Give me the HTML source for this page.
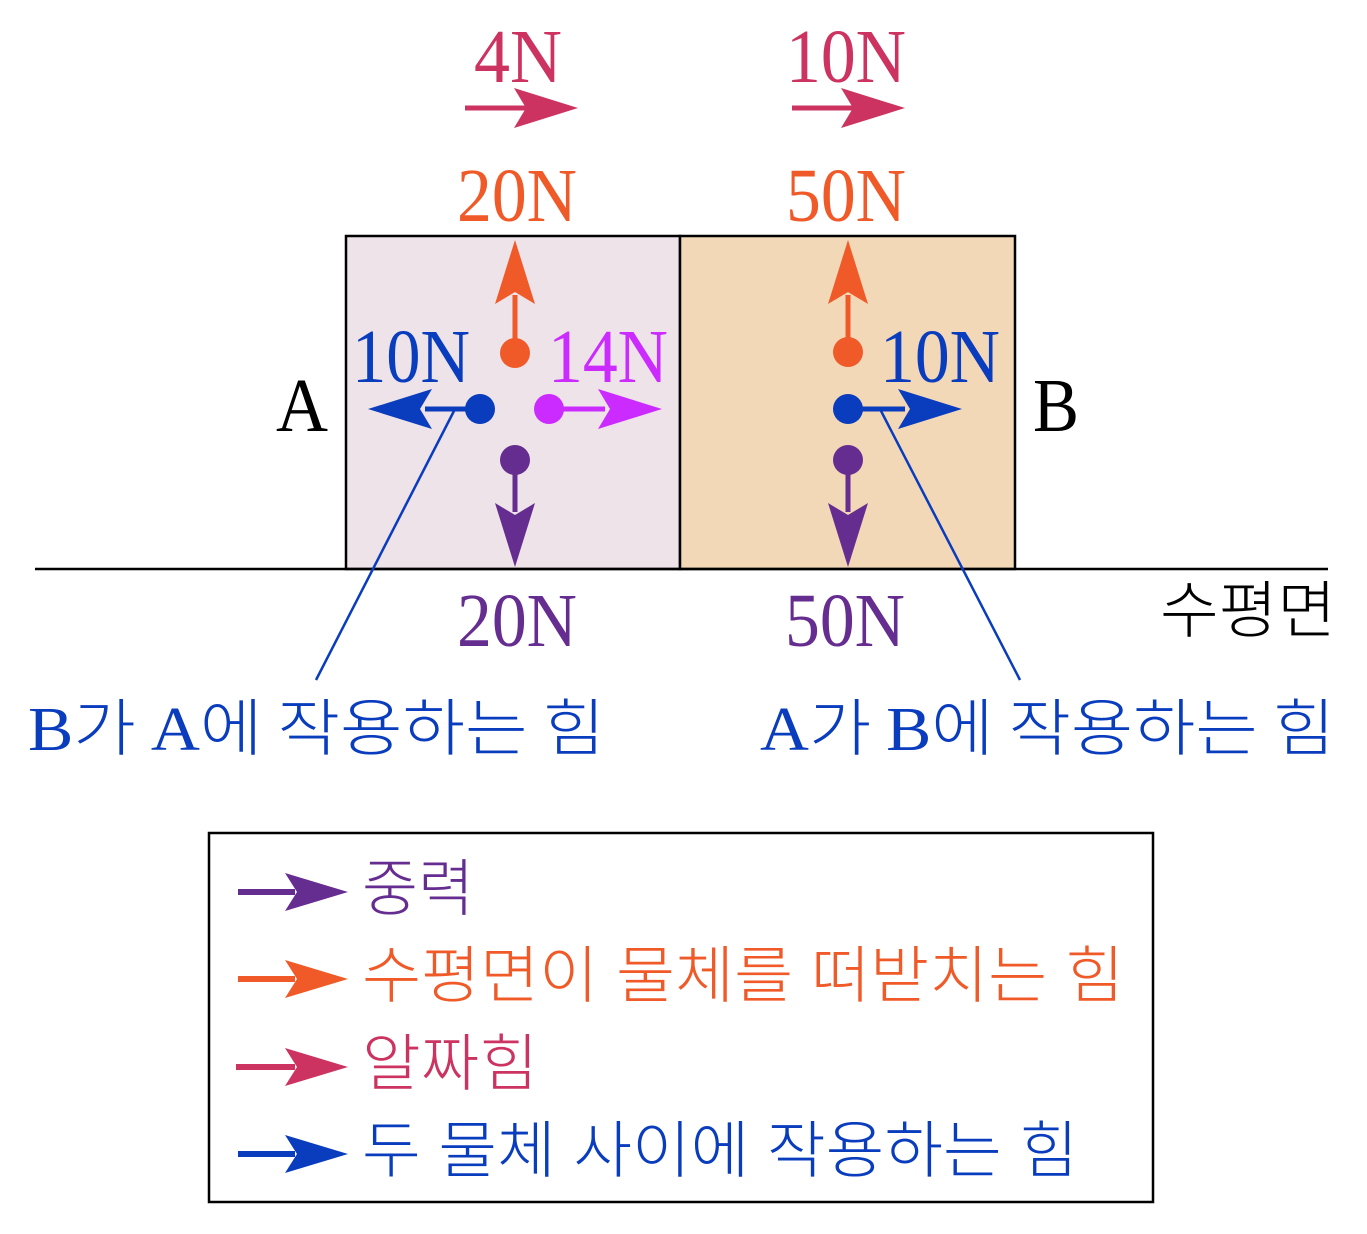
<!DOCTYPE html>
<html><head><meta charset="utf-8"><style>
html,body{margin:0;padding:0;background:#fff}
svg{display:block}
.s{font-family:"Liberation Serif",serif;font-size:76px}
.k{font-family:"Liberation Sans","Noto Sans CJK KR",sans-serif;font-size:62px;font-weight:300}
.kl{font-family:"Noto Sans CJK KR",sans-serif;font-size:62px;font-weight:300}
.lt{font-family:"Liberation Serif",serif;font-weight:400}
</style></head><body>
<svg width="1367" height="1234" viewBox="0 0 1367 1234" xmlns="http://www.w3.org/2000/svg">
<rect x="346" y="236" width="334" height="333" fill="#ede3e8" stroke="#000" stroke-width="2.5"/>
<rect x="680" y="236" width="335" height="333" fill="#f3d8b8" stroke="#000" stroke-width="2.5"/>
<line x1="35" y1="569" x2="1328" y2="569" stroke="#000" stroke-width="2.5"/>

<g fill="#cc3360" stroke="#cc3360">
<line x1="465" y1="108" x2="530" y2="108" stroke-width="5"/>
<polygon stroke="none" points="578,108 514,88 526,108 514,128"/>
<line x1="792" y1="108" x2="857" y2="108" stroke-width="5"/>
<polygon stroke="none" points="905,108 841,88 853,108 841,128"/>
</g>
<text class="s" x="474" y="82" fill="#cc3360" textLength="88" lengthAdjust="spacingAndGlyphs">4N</text>
<text class="s" x="786" y="82" fill="#cc3360" textLength="120" lengthAdjust="spacingAndGlyphs">10N</text>
<text class="s" x="457" y="221" fill="#f05a28" textLength="120" lengthAdjust="spacingAndGlyphs">20N</text>
<text class="s" x="786" y="221" fill="#f05a28" textLength="120" lengthAdjust="spacingAndGlyphs">50N</text>

<g fill="#f05a28" stroke="#f05a28">
<line x1="515" y1="353" x2="515" y2="295" stroke-width="5"/>
<polygon stroke="none" points="515,240 495,304 515,292 535,304"/>
<circle cx="515" cy="353" r="15" stroke="none"/>
<line x1="848" y1="352" x2="848" y2="295" stroke-width="5"/>
<polygon stroke="none" points="848,240 828,304 848,292 868,304"/>
<circle cx="848" cy="352" r="15" stroke="none"/>
</g>
<g fill="#0a3cbe" stroke="#0a3cbe">
<line x1="480" y1="409" x2="425" y2="409" stroke-width="5"/>
<polygon stroke="none" points="368,409 432,389 420,409 432,429"/>
<circle cx="480" cy="409" r="15" stroke="none"/>
<line x1="848" y1="409" x2="905" y2="409" stroke-width="5"/>
<polygon stroke="none" points="962,409 898,389 910,409 898,429"/>
<circle cx="848" cy="409" r="15" stroke="none"/>
<line x1="455" y1="409" x2="316" y2="680" stroke-width="2.5"/>
<line x1="880" y1="409" x2="1020" y2="680" stroke-width="2.5"/>
</g>
<g fill="#cc2bff" stroke="#cc2bff">
<line x1="549" y1="409" x2="605" y2="409" stroke-width="5"/>
<polygon stroke="none" points="662,409 598,389 610,409 598,429"/>
<circle cx="549" cy="409" r="15" stroke="none"/>
</g>
<g fill="#662d91" stroke="#662d91">
<line x1="515" y1="460" x2="515" y2="512" stroke-width="5"/>
<polygon stroke="none" points="515,567 495,503 515,515 535,503"/>
<circle cx="515" cy="460" r="15" stroke="none"/>
<line x1="848" y1="460" x2="848" y2="512" stroke-width="5"/>
<polygon stroke="none" points="848,567 828,503 848,515 868,503"/>
<circle cx="848" cy="460" r="15" stroke="none"/>
</g>
<text class="s" x="352" y="382" fill="#0a3cbe" textLength="118" lengthAdjust="spacingAndGlyphs">10N</text>
<text class="s" x="548" y="382" fill="#cc2bff" textLength="120" lengthAdjust="spacingAndGlyphs">14N</text>
<text class="s" x="880" y="382" fill="#0a3cbe" textLength="120" lengthAdjust="spacingAndGlyphs">10N</text>
<text class="s" x="276" y="431" fill="#000" textLength="52" lengthAdjust="spacingAndGlyphs">A</text>
<text class="s" x="1033" y="431" fill="#000" textLength="46" lengthAdjust="spacingAndGlyphs">B</text>
<text class="s" x="457" y="646" fill="#662d91" textLength="120" lengthAdjust="spacingAndGlyphs">20N</text>
<text class="s" x="785" y="646" fill="#662d91" textLength="120" lengthAdjust="spacingAndGlyphs">50N</text>
<text class="k" x="1160" y="632" fill="#000" textLength="176" lengthAdjust="spacingAndGlyphs">수평면</text>
<text class="kl" x="28" y="750" fill="#0a3cbe" textLength="577" lengthAdjust="spacingAndGlyphs"><tspan class="lt">B</tspan>가 <tspan class="lt">A</tspan>에 작용하는 힘</text>
<text class="kl" x="760" y="750" fill="#0a3cbe" textLength="575" lengthAdjust="spacingAndGlyphs"><tspan class="lt">A</tspan>가 <tspan class="lt">B</tspan>에 작용하는 힘</text>

<rect x="209" y="833" width="944" height="369" fill="none" stroke="#000" stroke-width="2.5"/>
<g>
<line x1="238" y1="892" x2="295" y2="892" stroke="#662d91" stroke-width="6"/>
<polygon fill="#662d91" points="348,892 285,873 297,892 285,911"/>
<text class="k" x="362" y="910" fill="#662d91" textLength="112" lengthAdjust="spacingAndGlyphs">중력</text>
<line x1="238" y1="979" x2="295" y2="979" stroke="#f05a28" stroke-width="6"/>
<polygon fill="#f05a28" points="348,979 285,960 297,979 285,998"/>
<text class="k" x="362" y="997" fill="#f05a28" textLength="762" lengthAdjust="spacingAndGlyphs">수평면이 물체를 떠받치는 힘</text>
<line x1="236" y1="1067" x2="295" y2="1067" stroke="#cc3360" stroke-width="6"/>
<polygon fill="#cc3360" points="348,1067 285,1048 297,1067 285,1086"/>
<text class="k" x="362" y="1085" fill="#cc3360" textLength="176" lengthAdjust="spacingAndGlyphs">알짜힘</text>
<line x1="238" y1="1154" x2="295" y2="1154" stroke="#0a3cbe" stroke-width="6"/>
<polygon fill="#0a3cbe" points="348,1154 285,1135 297,1154 285,1173"/>
<text class="k" x="362" y="1172" fill="#0a3cbe" textLength="716" lengthAdjust="spacingAndGlyphs">두 물체 사이에 작용하는 힘</text>
</g>
</svg>
</body></html>
